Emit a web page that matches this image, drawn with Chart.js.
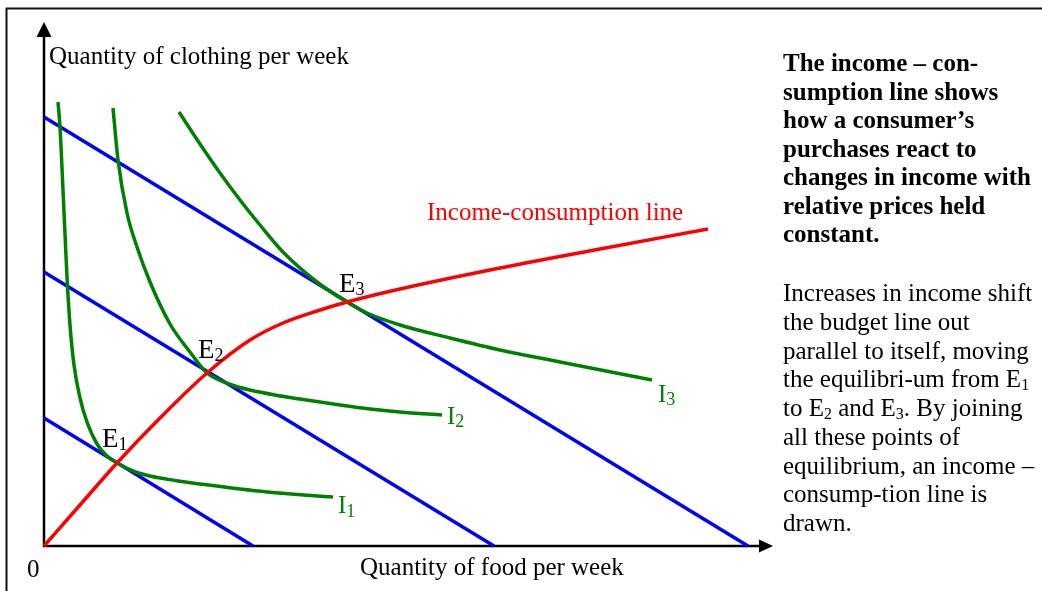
<!DOCTYPE html>
<html>
<head>
<meta charset="utf-8">
<script src="https://cdn.jsdelivr.net/npm/chart.js@4"></script>
<style>
  html, body { margin: 0; padding: 0; background: #fff; }
  canvas { display: block; }
</style>
</head>
<body>
<canvas id="myChart" width="1042" height="591"></canvas>
<script>
// quantities of food (x) and clothing (y)
var budget1 = [[0, 128], [209, 0]]
var budget2 = [[0, 274], [450, 0]]
var budget3 = [[0, 429], [704, 0]]

var indiff1 = [[14, 444], [16, 419], [19, 356], [23, 269], [26, 221], [30, 181], [36, 148], [43, 124],
               [53, 102], [63, 90], [73, 83], [89, 75], [106, 70], [131, 65.5], [156, 62], [223, 54], [289, 49]]
var indiff2 = [[69, 438], [74, 386], [83, 333], [93, 299], [106, 264], [126, 222], [146, 194], [163, 173],
               [173, 167], [191, 160], [206, 156], [231, 151], [256, 147], [296, 141], [326, 137], [356, 134], [398, 131]]
var indiff3 = [[135, 434], [156, 402], [176, 373], [196, 346], [216, 321], [239, 294], [273, 264], [303, 244],
               [323, 233], [356, 221], [406, 208], [456, 196], [516, 184], [608, 166]]

var incomeLine = [[0, 0], [36, 41], [73, 83], [116, 128], [163, 173], [206, 206], [239, 223], [273, 235],
                  [303, 244], [356, 257], [456, 278], [556, 297], [664, 317]]

var equilibria = [[73, 83], [163, 173], [303, 244]]

var xMax = 729
var yMax = 524

var serif = '"Liberation Serif", "Times New Roman", serif'

function toXY(arr) {
    return arr.map(p => ({ x: p[0], y: p[1] }))
}

function line(label, pts, color, smooth) {
    return {
        label: label,
        data: toXY(pts),
        showLine: true,
        borderColor: color,
        borderWidth: 3.5,
        pointRadius: 0,
        cubicInterpolationMode: smooth ? 'monotone' : 'default',
        tension: 0,
        fill: false,
        clip: false
    }
}

// draws "E" + subscript etc.
function drawSub(ctx, x, y, main, sub, size, subSize, drop) {
    ctx.font = size + 'px ' + serif
    ctx.fillText(main, x, y)
    var w = ctx.measureText(main).width
    ctx.font = subSize + 'px ' + serif
    ctx.fillText(sub, x + w, y + drop)
}

// a line of text made of [text, isSub] pieces
function drawRich(ctx, x, y, parts, weight) {
    var cx = x
    parts.forEach(p => {
        if (p[1]) {
            ctx.font = weight + ' 16px ' + serif
            ctx.fillText(p[0], cx, y + 3)
        } else {
            ctx.font = weight + ' 25px ' + serif
            ctx.fillText(p[0], cx, y)
        }
        cx += ctx.measureText(p[0]).width
    })
}

var boldText = [
    'The income \u2013 con-',
    'sumption line shows',
    'how a consumer\u2019s',
    'purchases react to',
    'changes in income with',
    'relative prices held',
    'constant.'
]

var plainText = [
    [['Increases in income shift']],
    [['the budget line out']],
    [['parallel to itself, moving']],
    [['the equilibri-um from E'], ['1', true]],
    [['to E'], ['2', true], [' and E'], ['3', true], ['. By joining']],
    [['all these points of']],
    [['equilibrium, an income \u2013']],
    [['consump-tion line is']],
    [['drawn.']]
]

var decor = {
    id: 'decor',
    beforeDatasetsDraw(chart) {
        var ctx = chart.ctx
        var a = chart.chartArea
        var x0 = chart.scales.x.getPixelForValue(0)
        var y0 = chart.scales.y.getPixelForValue(0)
        ctx.save()
        // frame
        ctx.strokeStyle = '#111'
        ctx.lineWidth = 2
        ctx.beginPath()
        ctx.moveTo(6.5, 591)
        ctx.lineTo(6.5, 8.5)
        ctx.lineTo(1042, 8.5)
        ctx.stroke()
        // axes
        ctx.strokeStyle = '#000'
        ctx.fillStyle = '#000'
        ctx.lineWidth = 2.5
        ctx.beginPath()
        ctx.moveTo(x0, a.top + 10)
        ctx.lineTo(x0, y0)
        ctx.lineTo(a.right - 10, y0)
        ctx.stroke()
        ctx.beginPath()
        ctx.moveTo(x0, a.top)
        ctx.lineTo(x0 - 7.5, a.top + 15)
        ctx.lineTo(x0 + 7.5, a.top + 15)
        ctx.closePath()
        ctx.fill()
        ctx.beginPath()
        ctx.moveTo(a.right, y0)
        ctx.lineTo(a.right - 14, y0 - 6.5)
        ctx.lineTo(a.right - 14, y0 + 6.5)
        ctx.closePath()
        ctx.fill()
        ctx.restore()
    },
    afterDraw(chart) {
        var ctx = chart.ctx
        var sx = chart.scales.x, sy = chart.scales.y
        ctx.save()
        ctx.textBaseline = 'alphabetic'
        ctx.fillStyle = '#000'
        ctx.font = '25px ' + serif
        ctx.fillText('Quantity of clothing per week', 49, 64)
        ctx.fillText('Quantity of food per week', 360, 575)
        ctx.fillText('0', 27, 577)

        ctx.fillStyle = '#ff0000'
        ctx.fillText('Income-consumption line', 427, 220)

        // equilibrium labels, placed relative to the points
        ctx.fillStyle = '#000'
        var offs = [[-15, -16], [-9, -15], [-8, -10]]
        equilibria.forEach((p, i) => {
            var px = sx.getPixelForValue(p[0]) + offs[i][0]
            var py = sy.getPixelForValue(p[1]) + offs[i][1]
            drawSub(ctx, px, py, 'E', String(i + 1), 27, 18, 3)
        })

        // indifference curve labels
        ctx.fillStyle = '#008000'
        drawSub(ctx, 338, 513, 'I', '1', 25, 18, 4)
        drawSub(ctx, 447, 424, 'I', '2', 25, 18, 3)
        drawSub(ctx, 658, 402, 'I', '3', 25, 18, 3)

        // side text
        ctx.fillStyle = '#000'
        boldText.forEach((t, i) => {
            ctx.font = 'bold 25px ' + serif
            ctx.fillText(t, 783, 71 + i * 28.5)
        })
        plainText.forEach((parts, i) => {
            drawRich(ctx, 783, 301 + i * 28.75, parts, 'normal')
        })
        ctx.restore()
    }
}

var ctx = document.getElementById('myChart').getContext('2d')
var chart = new Chart(ctx, {
    type: 'scatter',
    data: {
        datasets: [
            line('Income-consumption line', incomeLine, '#ff0000', true),
            line('I1', indiff1, '#008000', true),
            line('I2', indiff2, '#008000', true),
            line('I3', indiff3, '#008000', true),
            line('Budget 1', budget1, '#0000ff', false),
            line('Budget 2', budget2, '#0000ff', false),
            line('Budget 3', budget3, '#0000ff', false)
        ]
    },
    options: {
        responsive: false,
        devicePixelRatio: 1,
        animation: false,
        layout: { padding: { left: 44, right: 269, top: 22, bottom: 45 } },
        plugins: { legend: { display: false }, tooltip: { enabled: false } },
        scales: {
            x: { type: 'linear', min: 0, max: xMax, display: false },
            y: { type: 'linear', min: 0, max: yMax, display: false }
        }
    },
    plugins: [decor]
})
</script>
</body>
</html>
